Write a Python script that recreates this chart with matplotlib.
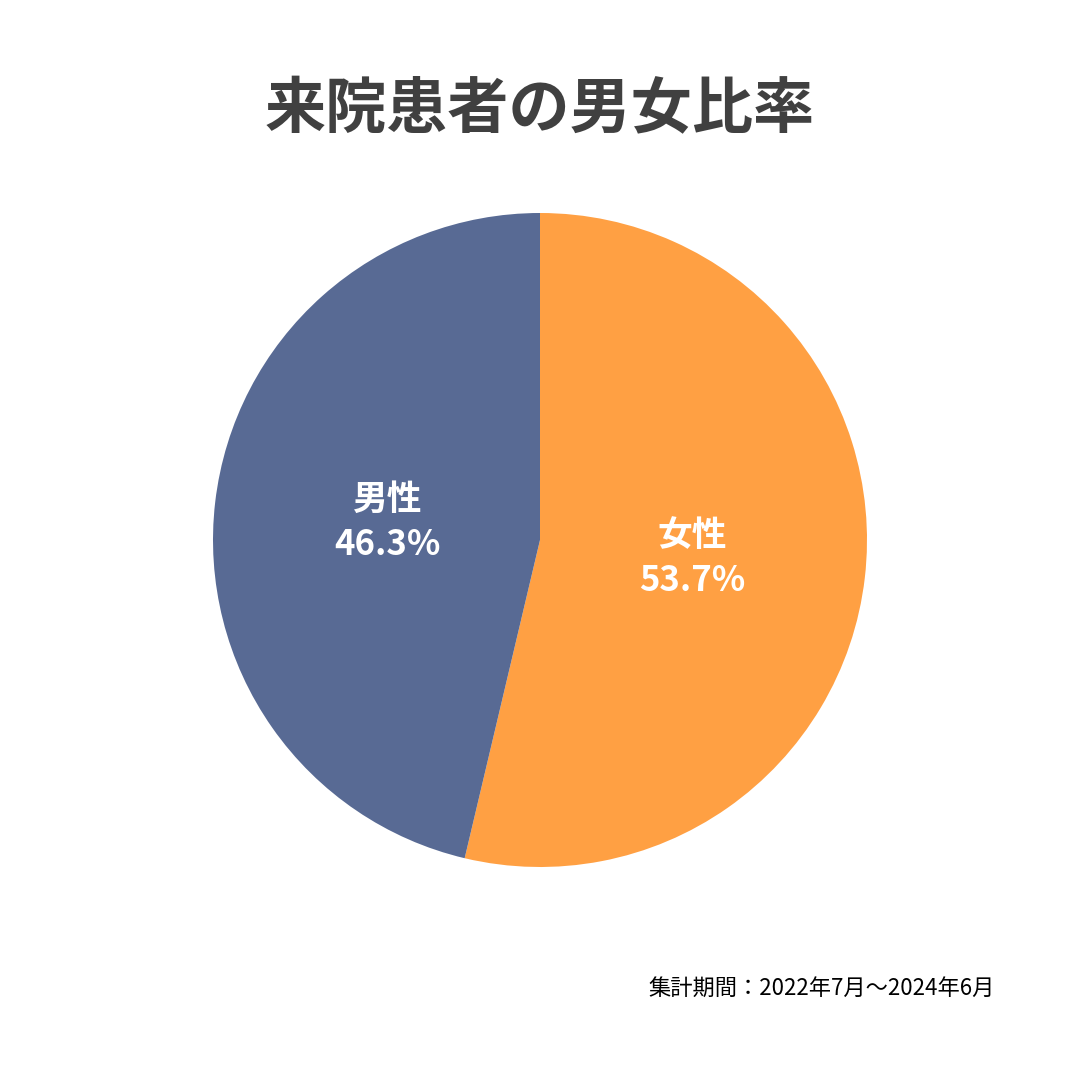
import matplotlib
matplotlib.use("Agg")
import matplotlib.pyplot as plt

plt.rcParams['font.family'] = ['Noto Sans CJK JP', 'DejaVu Sans']

categories = ["女性", "男性"]
values = [53.7, 46.3]
colors = ["#FFA043", "#586A94"]
title = "来院患者の男女比率"
note = "集計期間：2022年7月～2024年6月"

fig = plt.figure(figsize=(10.8, 10.8), dpi=100)
fig.patch.set_facecolor("white")
ax = fig.add_axes([213/1080, 213/1080, 654/1080, 654/1080])
labels = [f"{c}\n{v:.1f}%" for c, v in zip(categories, values)]
wedges, texts = ax.pie(values, colors=colors, startangle=90, counterclock=False,
                       labels=labels, labeldistance=0.47, radius=1,
                       textprops=dict(color="white", fontsize=25, fontweight="bold",
                                      ha="center", va="center", linespacing=1.35))
ax.set_xlim(-1, 1); ax.set_ylim(-1, 1); ax.set_aspect("equal")
fig.text(0.5, 1 - 110/1080, title, ha="center", va="center", fontsize=44,
         fontweight="bold", color="#404040")
fig.text(995/1080, 1 - 988/1080, note, ha="right", va="center", fontsize=16, color="black")
fig.savefig("out.png", dpi=100)
